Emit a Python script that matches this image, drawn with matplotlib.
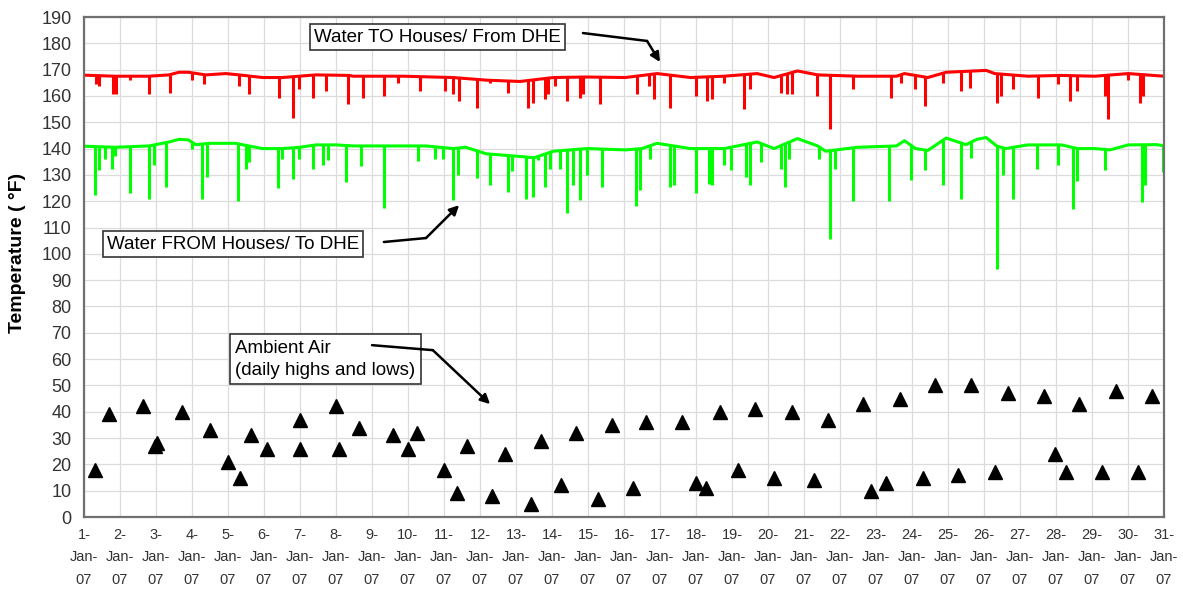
import matplotlib
matplotlib.use('Agg')
import matplotlib.pyplot as plt
import numpy as np

plt.rcParams['font.family'] = ['Liberation Sans', 'DejaVu Sans']

# all x values are days since 1-Jan-07 00:00
# water to houses (red): slow baseline + short dips
red_base_day = [0.0, 0.87, 1.8, 2.36, 2.64, 2.9, 3.38, 3.94, 4.31, 4.96, 5.51, 6.44, 7.37,
                7.47, 8.86, 10.25, 11.18, 12.11, 13.04, 13.97, 15.04, 15.92, 16.85, 17.78,
                18.7, 19.17, 19.82, 20.38, 21.49, 22.57, 22.79, 23.44, 23.95, 25.06, 25.3,
                26.22, 27.15, 28.08, 29.01, 30.0]
red_base_temp = [167.9, 167.5, 167.5, 168.0, 169.0, 169.0, 168.0, 168.5, 168.0, 167.0, 167.0,
                 168.0, 167.8, 167.5, 167.5, 167.0, 166.0, 165.5, 167.0, 167.2, 167.0, 168.5,
                 167.0, 167.5, 168.5, 167.0, 169.5, 168.0, 167.5, 167.5, 168.5, 167.0, 169.0,
                 169.7, 168.5, 167.5, 167.8, 167.5, 168.5, 167.5]
red_dip_day = [0.32, 0.41, 0.80, 0.90, 1.29, 1.80, 2.38, 3.01, 3.33, 4.31, 4.59, 5.42, 5.81,
               5.98, 6.35, 6.72, 7.33, 7.74, 8.32, 8.72, 9.32, 10.02, 10.25, 10.42, 10.92,
               11.27, 11.78, 12.34, 12.48, 12.80, 12.90, 13.08, 13.41, 13.78, 13.87, 14.34,
               15.36, 15.69, 15.83, 16.29, 16.99, 17.31, 17.45, 17.78, 18.33, 18.50, 19.35,
               19.54, 19.68, 20.37, 20.72, 21.35, 22.42, 22.70, 23.07, 23.35, 23.86, 24.37,
               24.60, 25.37, 25.48, 25.81, 26.50, 27.06, 27.38, 27.57, 28.36, 28.45, 29.01,
               29.33, 29.43]
red_dip_low = [164.4, 163.7, 160.8, 160.8, 166.2, 160.6, 161.2, 166.0, 164.4, 163.7, 160.6,
               159.3, 151.8, 162.5, 159.3, 161.8, 156.8, 159.3, 160.0, 165.0, 161.8, 161.8,
               160.6, 158.0, 155.6, 165.0, 161.2, 155.6, 157.5, 158.7, 160.6, 163.7, 158.0,
               159.3, 160.6, 156.8, 160.6, 163.7, 159.0, 155.6, 160.0, 158.0, 158.7, 165.0,
               155.0, 162.5, 161.2, 160.6, 160.6, 160.0, 147.4, 162.5, 159.3, 165.0, 162.5,
               156.2, 165.0, 161.8, 163.1, 157.5, 160.0, 162.5, 159.3, 164.4, 158.0, 161.8,
               160.0, 151.2, 166.2, 157.5, 160.0]

# water from houses (green)
green_base_day = [0.0, 0.87, 1.8, 2.36, 2.64, 2.9, 3.1, 3.5, 4.2, 4.96, 5.51, 6.0, 6.44, 7.0,
                  7.47, 8.86, 9.5, 10.25, 10.6, 11.18, 12.11, 12.5, 13.04, 13.97, 15.04, 15.5,
                  15.92, 16.85, 17.78, 18.7, 19.17, 19.82, 20.38, 20.6, 21.49, 22.57, 22.79,
                  23.1, 23.44, 23.95, 24.5, 24.8, 25.06, 25.35, 25.6, 26.22, 27.15, 27.6,
                  28.08, 28.5, 29.01, 29.8, 30.0]
green_base_temp = [140.9, 140.5, 141.0, 142.5, 143.5, 143.3, 141.5, 142.0, 142.0, 140.0, 140.0,
                   140.5, 141.4, 141.4, 141.0, 141.0, 141.0, 140.0, 140.5, 138.0, 137.0, 136.5,
                   139.0, 140.0, 139.5, 140.0, 142.0, 140.0, 140.0, 142.5, 140.0, 143.8, 141.0,
                   139.0, 140.5, 141.0, 143.0, 140.0, 139.3, 144.0, 141.5, 143.5, 144.2, 141.0,
                   140.0, 141.4, 141.4, 140.0, 140.0, 139.5, 141.4, 141.5, 141.0]
green_dip_day = [0.30, 0.43, 0.59, 0.78, 0.87, 1.29, 1.80, 1.94, 2.28, 3.01, 3.29, 3.43, 4.29,
                 4.49, 4.59, 5.38, 5.51, 5.81, 5.98, 6.35, 6.63, 6.77, 7.28, 7.70, 8.32, 9.28,
                 9.74, 9.97, 10.25, 10.39, 10.92, 11.29, 11.78, 11.88, 12.29, 12.48, 12.62,
                 12.80, 12.94, 13.22, 13.41, 13.59, 13.78, 13.96, 14.38, 15.34, 15.45, 15.73,
                 16.29, 16.38, 16.99, 17.36, 17.45, 17.78, 17.96, 18.38, 18.50, 18.80, 19.35,
                 19.47, 19.59, 20.42, 20.72, 20.86, 21.35, 22.37, 22.97, 23.35, 23.86, 24.37,
                 24.65, 25.37, 25.53, 25.81, 26.46, 27.06, 27.48, 27.57, 28.36, 29.38, 29.47,
                 29.98]
green_dip_low = [122.3, 131.7, 136.0, 132.4, 137.0, 123.0, 121.0, 133.7, 125.5, 140.0, 121.0,
                 129.2, 120.0, 132.4, 135.0, 125.0, 136.0, 128.3, 136.0, 132.4, 133.6, 135.5,
                 127.3, 133.4, 117.4, 135.1, 136.0, 136.0, 120.4, 130.0, 129.0, 126.2, 123.6,
                 131.5, 121.0, 121.7, 135.5, 125.5, 132.4, 132.4, 115.6, 126.2, 120.4, 130.0,
                 125.5, 118.0, 124.2, 136.0, 125.5, 126.2, 123.0, 126.7, 126.2, 133.6, 131.8,
                 129.2, 126.2, 134.8, 132.4, 125.5, 136.0, 136.0, 105.6, 132.4, 120.0, 120.0,
                 128.0, 131.7, 126.3, 121.0, 136.4, 94.1, 130.0, 121.0, 132.4, 133.6, 117.0,
                 127.5, 131.7, 119.8, 126.2, 131.0]

# ambient air, daily highs and lows
amb_day = [0.30, 0.70, 1.64, 1.96, 2.03, 2.72, 3.50, 4.00, 4.32, 4.64, 5.07, 6.01, 6.01, 7.00,
           7.08, 7.64, 8.58, 9.01, 9.24, 9.99, 10.35, 10.63, 11.34, 11.70, 12.41, 12.69, 13.24,
           13.66, 14.29, 14.68, 15.25, 15.62, 16.60, 16.99, 17.27, 17.67, 18.18, 18.64, 19.16,
           19.68, 20.27, 20.67, 21.65, 21.85, 22.27, 22.68, 23.31, 23.65, 24.29, 24.64, 25.31,
           25.67, 26.66, 26.98, 27.29, 27.64, 28.27, 28.66, 29.29, 29.66]
amb_temp = [18, 39, 42, 27, 28, 40, 33, 21, 15, 31, 26, 37, 26, 42, 26, 34, 31, 26, 32, 18, 9,
            27, 8, 24, 5, 29, 12, 32, 7, 35, 11, 36, 36, 13, 11, 40, 18, 41, 15, 40, 14, 37, 43,
            10, 13, 45, 15, 50, 16, 50, 17, 47, 46, 24, 17, 43, 17, 48, 17, 46]

x_labels = [f'{d}-\nJan-\n07' for d in range(1, 32)]

W, H = 1183, 590
fig = plt.figure(figsize=(W / 100, H / 100), dpi=100)
ax = fig.add_axes([84 / W, 1 - 517 / H, 1080 / W, 500 / H])

ax.set_xlim(0, 30)
ax.set_ylim(0, 190)
ax.set_xticks(range(31))
ax.set_xticklabels(x_labels, fontsize=10.5, color='#333333', linespacing=1.75)
ax.set_yticks(range(0, 191, 10))
ax.tick_params(axis='y', labelsize=13, labelcolor='#333333', length=0, pad=9)
ax.tick_params(axis='x', length=0, pad=8)
ax.grid(True, color='#dcdcdc', lw=0.9)
ax.set_axisbelow(True)
for sp in ax.spines.values():
    sp.set_color('#707070')
    sp.set_linewidth(1.6)

# lines: baseline + dips
red_top = np.interp(red_dip_day, red_base_day, red_base_temp)
green_top = np.interp(green_dip_day, green_base_day, green_base_temp)
ax.plot(red_base_day, red_base_temp, color='#ff0000', lw=2.2)
ax.vlines(red_dip_day, red_dip_low, red_top, color='#ff0000', lw=2.2)
ax.plot(green_base_day, green_base_temp, color='#00ff00', lw=2.2)
ax.vlines(green_dip_day, green_dip_low, green_top, color='#00ff00', lw=2.2)

ax.plot(amb_day, amb_temp, ls='none', marker='^', ms=9.5, color='black')

# annotation boxes with bent arrows
box = dict(boxstyle='square,pad=0.22', fc='white', ec='#333333', lw=1.2)
ax.text(9.83, 182.4, 'Water TO Houses/ From DHE', ha='center', va='center',
        fontsize=13.5, bbox=box, zorder=4)
ax.text(4.14, 103.7, 'Water FROM Houses/ To DHE', ha='center', va='center',
        fontsize=13.5, bbox=box, zorder=4)
ax.text(4.2, 60, 'Ambient Air\n(daily highs and lows)', ha='left', va='center',
        fontsize=13.5, linespacing=1.4,
        bbox=dict(boxstyle='square,pad=0.3', fc='white', ec='#333333', lw=1.2), zorder=4)

arrows = [((13.86, 183.9), (15.64, 180.9), (16.0, 172.9)),
          ((8.33, 104.5), (9.5, 106.0), (10.42, 118.5)),
          ((8.0, 65.3), (9.69, 63.4), (11.28, 42.9))]
for start, bend, tip in arrows:
    ax.plot([start[0], bend[0]], [start[1], bend[1]], color='black', lw=1.8,
            solid_capstyle='round', zorder=5)
    ax.annotate('', xy=tip, xytext=bend, zorder=5,
                arrowprops=dict(arrowstyle='-|>', color='black', lw=1.8,
                                mutation_scale=14, shrinkA=0, shrinkB=0))

fig.text(18 / W, 1 - 253 / H, 'Temperature ( \u00b0F)', rotation=90, ha='center',
         va='center', fontsize=14, fontweight='bold')

fig.savefig('out.png', dpi=100)
